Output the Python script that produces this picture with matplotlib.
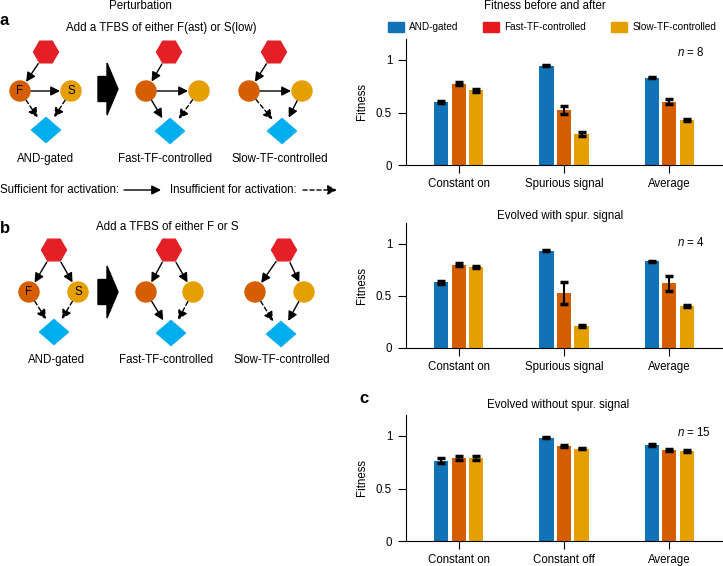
import numpy as np
import matplotlib
matplotlib.use("Agg")
import matplotlib.pyplot as plt
from matplotlib.patches import (RegularPolygon, Polygon, Circle,
                                FancyArrowPatch, FancyArrow, Patch)

plt.rcParams["font.family"] = ["Liberation Sans", "DejaVu Sans"]
plt.rcParams["mathtext.fontset"] = "custom"
plt.rcParams["mathtext.it"] = "Liberation Sans:italic"
plt.rcParams["mathtext.rm"] = "Liberation Sans"

# -----------------------------
# Data
# -----------------------------
series_names = ["AND-gated", "Fast-TF-controlled", "Slow-TF-controlled"]

cats_a = ["Constant on", "Spurious signal", "Average"]
and_a = [0.600, 0.946, 0.831]
and_a_err = [0.012, 0.005, 0.006]
fast_a = [0.774, 0.525, 0.602]
fast_a_err = [0.012, 0.035, 0.025]
slow_a = [0.710, 0.296, 0.430]
slow_a_err = [0.013, 0.020, 0.010]

cats_b = ["Constant on", "Spurious signal", "Average"]
and_b = [0.630, 0.933, 0.831]
and_b_err = [0.012, 0.005, 0.005]
fast_b = [0.800, 0.530, 0.620]
fast_b_err = [0.015, 0.105, 0.068]
slow_b = [0.780, 0.213, 0.404]
slow_b_err = [0.008, 0.010, 0.010]

cats_c = ["Constant on", "Constant off", "Average"]
and_c = [0.766, 0.984, 0.918]
and_c_err = [0.020, 0.005, 0.010]
fast_c = [0.794, 0.902, 0.867]
fast_c_err = [0.020, 0.008, 0.008]
slow_c = [0.794, 0.880, 0.854]
slow_c_err = [0.020, 0.008, 0.008]

n_labels = ["8", "4", "15"]

FS = 8.3
C_AND = "#1172b6"
C_FAST = "#d45e00"
C_SLOW = "#e69f00"
C_LEG_FAST = "#e41a1c"
C_HEX = "#e41f26"
C_DIA = "#00aeef"

# -----------------------------
# Figure + pixel overlay for diagrams and texts
# -----------------------------
fig = plt.figure(figsize=(7.23, 5.66), dpi=100)
ov = fig.add_axes([0, 0, 1, 1])
ov.set_xlim(0, 723)
ov.set_ylim(566, 0)
ov.axis("off")

OUT_SHRINK = {"hex": 14, "F": 11, "S": 11}
IN_SHRINK = {"F": 11, "S": 11, "D": 15}


def arrow(ax, p, q, s0=0, s1=0, dashed=False):
    p = np.array(p, float)
    q = np.array(q, float)
    u = (q - p) / np.hypot(*(q - p))
    a = p + s0 * u
    b = q - s1 * u
    ls = (0, (3, 2)) if dashed else "-"
    ax.add_patch(FancyArrowPatch(
        a, b, arrowstyle="-|>,head_length=0.55,head_width=0.28",
        mutation_scale=10, lw=1.0, color="black", linestyle=ls,
        shrinkA=0, shrinkB=0, zorder=3))


def draw_network(ax, net, edges, letters, label):
    ax.add_patch(RegularPolygon(net["hex"], 6, radius=12.5,
                                orientation=np.pi / 6, color=C_HEX))
    ax.add_patch(Circle(net["F"], 10, color=C_FAST))
    ax.add_patch(Circle(net["S"], 10, color=C_SLOW))
    dx, dy = net["D"]
    ax.add_patch(Polygon([(dx - 14.5, dy), (dx, dy - 12.5),
                          (dx + 14.5, dy), (dx, dy + 12.5)], color=C_DIA))
    if letters:
        for k in ["F", "S"]:
            ax.text(*net[k], k, ha="center", va="center", fontsize=FS)
    for src, dst, dashed in edges:
        arrow(ax, net[src], net[dst], OUT_SHRINK[src], IN_SHRINK[dst], dashed)
    ax.text(*net["label"], label, ha="center", va="baseline", fontsize=FS)


# Row a: F activates S
nets_a = [
    {"hex": (46, 52), "F": (20, 91), "S": (71, 91), "D": (46, 130), "label": (46, 162)},
    {"hex": (169, 52), "F": (146, 91), "S": (199, 91), "D": (170, 131), "label": (165, 162)},
    {"hex": (274, 52), "F": (249, 91), "S": (302, 91), "D": (282, 131), "label": (280, 162)},
]
edges_a = [
    [("hex", "F", False), ("F", "S", False), ("F", "D", True), ("S", "D", True)],
    [("hex", "F", False), ("F", "S", False), ("F", "D", False), ("S", "D", True)],
    [("hex", "F", False), ("F", "S", False), ("F", "D", True), ("S", "D", False)],
]
# Row b: both activated by the input
nets_b = [
    {"hex": (54, 250), "F": (29, 292), "S": (78, 292), "D": (54, 332), "label": (57, 363)},
    {"hex": (169, 250), "F": (146, 292), "S": (193, 292), "D": (171, 333), "label": (166, 363)},
    {"hex": (284, 250), "F": (255, 292), "S": (304, 292), "D": (281, 334), "label": (282, 363)},
]
edges_b = [
    [("hex", "F", False), ("hex", "S", False), ("F", "D", True), ("S", "D", True)],
    [("hex", "F", False), ("hex", "S", False), ("F", "D", False), ("S", "D", True)],
    [("hex", "F", False), ("hex", "S", False), ("F", "D", True), ("S", "D", False)],
]

for i in range(3):
    draw_network(ov, nets_a[i], edges_a[i], i == 0, series_names[i])
    draw_network(ov, nets_b[i], edges_b[i], i == 0, series_names[i])

# big "perturbation" arrows
for yc in [89, 292]:
    ov.add_patch(FancyArrow(98, yc, 20, 0, width=25, head_width=52,
                            head_length=11, length_includes_head=True,
                            color="black"))

# activation legend
ov.text(0, 193, "Sufficient for activation:", fontsize=FS, va="baseline")
arrow(ov, (124, 190), (161, 190))
ov.text(170, 193, "Insufficient for activation:", fontsize=FS, va="baseline")
arrow(ov, (303, 190), (337, 190), dashed=True)

# headings
ov.text(140, 9, "Perturbation", ha="center", va="baseline", fontsize=FS)
ov.text(545, 9, "Fitness before and after", ha="center", va="baseline", fontsize=FS)
ov.text(0, 25, "a", fontsize=12, fontweight="bold", va="baseline")
ov.text(161, 31, "Add a TFBS of either F(ast) or S(low)", ha="center",
        va="baseline", fontsize=FS)
ov.text(0, 233, "b", fontsize=12, fontweight="bold", va="baseline")
ov.text(167, 230, "Add a TFBS of either F or S", ha="center",
        va="baseline", fontsize=FS)
ov.text(560, 219, "Evolved with spur. signal", ha="center", va="baseline", fontsize=FS)
ov.text(359, 403, "c", fontsize=12, fontweight="bold", va="baseline")
ov.text(558, 408, "Evolved without spur. signal", ha="center", va="baseline", fontsize=FS)

# -----------------------------
# Bar panels
# -----------------------------
offsets = [-0.167, 0.0, 0.167]
colors = [C_AND, C_FAST, C_SLOW]


def bar_panel(ax, cats, vals, errs, n_text, n_y):
    x = np.arange(len(cats))
    for k in range(3):
        ax.bar(x + offsets[k], vals[k], width=0.135, color=colors[k], zorder=2)
        ax.errorbar(x + offsets[k], vals[k], yerr=errs[k], fmt="none",
                    ecolor="black", elinewidth=1.5, capsize=3.2, capthick=2.5,
                    zorder=3)
    ax.set_xlim(-0.5, 2.5)
    ax.set_ylim(0, 1.2)
    ax.set_yticks([0, 0.5, 1])
    ax.set_yticklabels(["0", "0.5", "1"])
    ax.set_xticks(x)
    ax.set_xticklabels(cats)
    for s in ["top", "right"]:
        ax.spines[s].set_visible(False)
    for s in ["left", "bottom"]:
        ax.spines[s].set_linewidth(0.8)
    ax.tick_params(axis="both", length=6, width=0.8, labelsize=FS)
    ax.tick_params(axis="x", pad=3.5)
    ax.tick_params(axis="y", pad=4)
    ax.set_ylabel("Fitness", fontsize=FS)
    ax.yaxis.set_label_coords(-0.12, 0.5)
    ax.text(0.858, n_y, r"$n$ = " + n_text, transform=ax.transAxes,
            fontsize=FS, va="center")


W = 316 / 723
L = 406 / 723
ax_a = fig.add_axes([L, 1 - 165 / 566, W, 126 / 566])
ax_b = fig.add_axes([L, 1 - 348 / 566, W, 125 / 566])
ax_c = fig.add_axes([L, 1 - 541 / 566, W, 126 / 566])

bar_panel(ax_a, cats_a, [and_a, fast_a, slow_a],
          [and_a_err, fast_a_err, slow_a_err], n_labels[0], 0.889)
bar_panel(ax_b, cats_b, [and_b, fast_b, slow_b],
          [and_b_err, fast_b_err, slow_b_err], n_labels[1], 0.84)
bar_panel(ax_c, cats_c, [and_c, fast_c, slow_c],
          [and_c_err, fast_c_err, slow_c_err], n_labels[2], 0.865)

LEG_FS = 7.2
handles = [Patch(color=C_AND), Patch(color=C_LEG_FAST), Patch(color=C_SLOW)]
fig.legend(handles, series_names, loc="center left",
           bbox_to_anchor=(388 / 723, 1 - 27 / 566), ncol=3, frameon=False,
           fontsize=LEG_FS, handlelength=1.6, handleheight=1.2,
           handletextpad=0.5, columnspacing=2.5, borderpad=0,
           borderaxespad=0)

fig.savefig("out.png", dpi=100)
